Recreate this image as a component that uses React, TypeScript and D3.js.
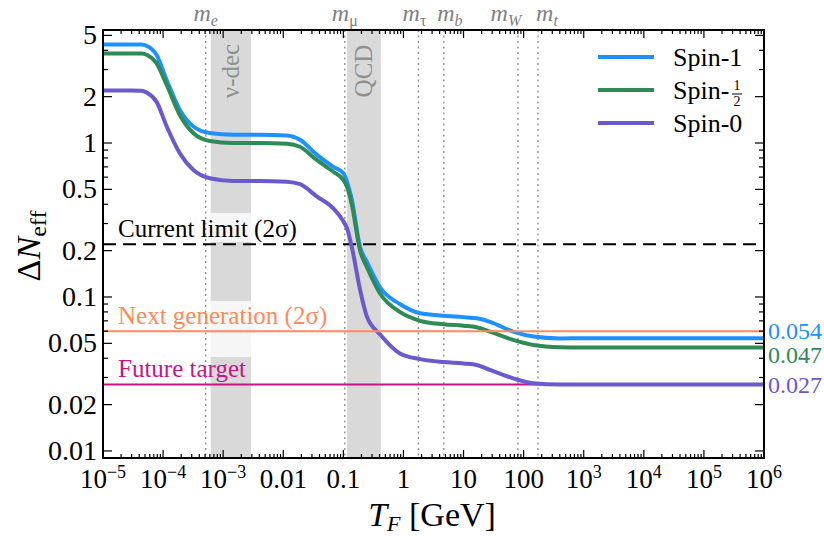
import React from "react";
import * as d3 from "d3";

// decoupling temperature grid (GeV) and Delta N_eff for each spin
const temps = [
  1e-5, 3e-5, 4.3e-5, 5.4e-5, 7.8e-5, 1.15e-4, 1.9e-4, 3.2e-4, 6e-4, 1.45e-3, 4e-3, 0.0115,
  0.019, 0.036, 0.068, 0.1, 0.115, 0.138, 0.19, 0.245, 0.41, 0.87, 1.9, 4.6, 10,
  16.6, 27.5, 67, 145, 400, 1000, 1e6,
];
const spin1 = [
  4.37, 4.37, 4.36, 4.27, 3.73, 2.56, 1.64, 1.28, 1.16, 1.13, 1.13, 1.12,
  1.05, 0.84, 0.7, 0.636, 0.56, 0.43, 0.21, 0.17, 0.115, 0.09, 0.0784, 0.0756, 0.074,
  0.0727, 0.069, 0.0595, 0.0553, 0.0538, 0.054, 0.054,
];
const spinHalf = [
  3.82, 3.82, 3.81, 3.73, 3.29, 2.38, 1.52, 1.156, 1.03, 1.0, 1.0, 0.99,
  0.946, 0.776, 0.651, 0.575, 0.52, 0.4, 0.2, 0.157, 0.105, 0.08, 0.07, 0.0665, 0.065,
  0.0636, 0.0595, 0.0526, 0.0488, 0.0472, 0.047, 0.047,
];
const spin0 = [
  2.19, 2.19, 2.185, 2.12, 1.85, 1.28, 0.857, 0.668, 0.59, 0.567, 0.567, 0.56,
  0.54, 0.45, 0.376, 0.31, 0.279, 0.212, 0.111, 0.075, 0.057, 0.043, 0.0395, 0.0378, 0.037,
  0.0362, 0.0336, 0.0296, 0.0275, 0.027, 0.027, 0.027,
];
const seriesNames = ["Spin-1", "Spin-1/2", "Spin-0"];
const seriesColors = ["#1e90ff", "#2e8b57", "#6a5acd"];
const finalLabels = ["0.054", "0.047", "0.027"];

const currentLimit = 0.22;
const nextGeneration = 0.06;
const futureTarget = 0.027;

const massSubs = ["e", "μ", "τ", "b", "W", "t"];
const massValues = [0.000511, 0.1057, 1.777, 4.7, 80.4, 173];
const nuDecBand = [6.2e-4, 2.9e-3];
const qcdBand = [0.115, 0.42];

const xTicks = [1e-5, 1e-4, 1e-3, 0.01, 0.1, 1, 10, 100, 1e3, 1e4, 1e5, 1e6];
const xTickLabels = [
  ["10", "−5"], ["10", "−4"], ["10", "−3"], ["0.01", ""], ["0.1", ""], ["1", ""],
  ["10", ""], ["100", ""], ["10", "3"], ["10", "4"], ["10", "5"], ["10", "6"],
];
const yTicks = [0.01, 0.02, 0.05, 0.1, 0.2, 0.5, 1, 2, 5];
const yTickLabels = ["0.01", "0.02", "0.05", "0.1", "0.2", "0.5", "1", "2", "5"];

const W = 824;
const H = 536;
const L = 103, R = 764, T = 30, B = 458;
const FONT = "Liberation Serif, DejaVu Serif, serif";

const App = () => {
  const x = d3.scaleLog().domain([1e-5, 1e6]).range([L, R]);
  const y = d3.scaleLog().domain([0.009, 5.42]).range([B, T]);

  const line = (vals: number[]) =>
    d3
      .line<number>()
      .x((d, i) => x(temps[i]))
      .y((d) => y(d))
      .curve(d3.curveMonotoneX)(vals) as string;

  const series = [spin1, spinHalf, spin0];

  // minor ticks
  const xMinor: number[] = [];
  for (let e = -5; e < 6; e++) for (let k = 2; k <= 9; k++) xMinor.push(k * Math.pow(10, e));
  const yMinor: number[] = [];
  [0.01, 0.1, 1].forEach((base) => {
    for (let k = 1; k <= 9; k++) {
      const v = k * base;
      if (v > 5.3 || yTicks.some((t) => Math.abs(t - v) < 1e-9)) continue;
      yMinor.push(v);
    }
  });

  const shifts = [0, 0, -4, 6, -12, 9];
  const bandLabel = (band: number[], label: string) => {
    const cx = (x(band[0]) + x(band[1])) / 2;
    return (
      <text
        transform={`translate(${cx + 8},71) rotate(-90)`}
        textAnchor="middle"
        fontSize={25}
        fill="#8f8f8f"
      >
        {label}
      </text>
    );
  };

  return (
    <svg
      width={W}
      height={H}
      style={{ position: "absolute", left: 0, top: 0, background: "white", fontFamily: FONT }}
    >
      {/* shaded bands */}
      {[nuDecBand, qcdBand].map((b, i) => (
        <rect key={i} x={x(b[0])} y={T} width={x(b[1]) - x(b[0])} height={B - T} fill="#d9d9d9" />
      ))}
      {/* label boxes */}
      <rect x={113} y={213} width={196} height={29} fill="white" opacity={0.75} />
      <rect x={113} y={301} width={226} height={56} fill="white" opacity={0.75} />

      {bandLabel(nuDecBand, "ν-dec")}
      {bandLabel(qcdBand, "QCD")}

      {/* mass thresholds */}
      {massValues.map((m, i) => (
        <g key={i}>
          <line x1={x(m)} x2={x(m)} y1={T} y2={B} stroke="#8a8a8a" strokeWidth={1.3} strokeDasharray="2,3.5" />
          <text x={x(m) + shifts[i]} y={21} textAnchor="middle" fontSize={24} fill="#808080">
            <tspan fontStyle="italic">m</tspan>
            <tspan
              fontSize={16}
              dy={5}
              fontStyle={i === 1 || i === 2 ? "normal" : "italic"}
            >
              {massSubs[i]}
            </tspan>
          </text>
        </g>
      ))}

      {/* reference lines */}
      <line x1={L} x2={R} y1={y(currentLimit)} y2={y(currentLimit)} stroke="black" strokeWidth={1.8} strokeDasharray="13,7" />
      <line x1={L} x2={R} y1={y(futureTarget)} y2={y(futureTarget)} stroke="#c71585" strokeWidth={2} />

      {series.map((s, i) => (
        <path key={i} d={line(s)} fill="none" stroke={seriesColors[i]} strokeWidth={4} />
      ))}
      <line x1={L} x2={R} y1={y(nextGeneration)} y2={y(nextGeneration)} stroke="#ff8a5c" strokeWidth={2} />

      <text x={118} y={237} fontSize={25} fill="black">Current limit (2σ)</text>
      <text x={118} y={324} fontSize={25} fill="#ff8a5c">Next generation (2σ)</text>
      <text x={118} y={377} fontSize={25} fill="#c71585">Future target</text>

      {/* final values */}
      {finalLabels.map((lab, i) => (
        <text key={i} x={768} y={[339, 363, 393][i]} fontSize={24} fill={seriesColors[i]}>
          {lab}
        </text>
      ))}

      {/* legend */}
      {seriesNames.map((n, i) => {
        const ly = 57 + i * 33;
        return (
          <g key={n}>
            <line x1={598} x2={654} y1={ly} y2={ly} stroke={seriesColors[i]} strokeWidth={4} />
            {i === 1 ? (
              <g>
                <text x={673} y={ly + 9} fontSize={26}>Spin-</text>
                <text x={737} y={ly} fontSize={14} textAnchor="middle">1</text>
                <line x1={732} x2={742} y1={ly + 4} y2={ly + 4} stroke="black" strokeWidth={1} />
                <text x={737} y={ly + 16} fontSize={14} textAnchor="middle">2</text>
              </g>
            ) : (
              <text x={673} y={ly + 9} fontSize={26}>{n}</text>
            )}
          </g>
        );
      })}

      {/* ticks */}
      <g stroke="black" strokeWidth={1.2}>
        {xTicks.map((t, i) => (
          <g key={"xt" + i}>
            <line x1={x(t)} x2={x(t)} y1={B} y2={B - 8} />
            <line x1={x(t)} x2={x(t)} y1={T} y2={T + 8} />
          </g>
        ))}
        {xMinor.map((t, i) => (
          <g key={"xm" + i}>
            <line x1={x(t)} x2={x(t)} y1={B} y2={B - 4} />
            <line x1={x(t)} x2={x(t)} y1={T} y2={T + 4} />
          </g>
        ))}
        {yTicks.map((t, i) => (
          <g key={"yt" + i}>
            <line x1={L} x2={L + 9} y1={y(t)} y2={y(t)} />
            <line x1={R} x2={R - 9} y1={y(t)} y2={y(t)} />
          </g>
        ))}
        {yMinor.map((t, i) => (
          <g key={"ym" + i}>
            <line x1={L} x2={L + 5} y1={y(t)} y2={y(t)} />
            <line x1={R} x2={R - 5} y1={y(t)} y2={y(t)} />
          </g>
        ))}
      </g>
      <rect x={L} y={T} width={R - L} height={B - T} fill="none" stroke="black" strokeWidth={2} />

      {/* tick labels */}
      {yTicks.map((t, i) => (
        <text key={"yl" + i} x={97} y={y(t) + 9} textAnchor="end" fontSize={28}>
          {yTickLabels[i]}
        </text>
      ))}
      {xTicks.map((t, i) => (
        <text key={"xl" + i} x={x(t)} y={488} textAnchor="middle" fontSize={27}>
          {xTickLabels[i][0]}
          {xTickLabels[i][1] && (
            <tspan fontSize={18} dy={-10}>
              {xTickLabels[i][1]}
            </tspan>
          )}
        </text>
      ))}

      {/* axis titles */}
      <text transform="translate(40,246) rotate(-90)" textAnchor="middle" fontSize={34}>
        Δ<tspan fontStyle="italic">N</tspan>
        <tspan fontSize={24} dy={6}>eff</tspan>
      </text>
      <text x={432} y={526} textAnchor="middle" fontSize={34}>
        <tspan fontStyle="italic">T</tspan>
        <tspan fontStyle="italic" fontSize={22} dy={5}>F</tspan>
        <tspan dy={-5}> [GeV]</tspan>
      </text>
    </svg>
  );
};

export default App;
